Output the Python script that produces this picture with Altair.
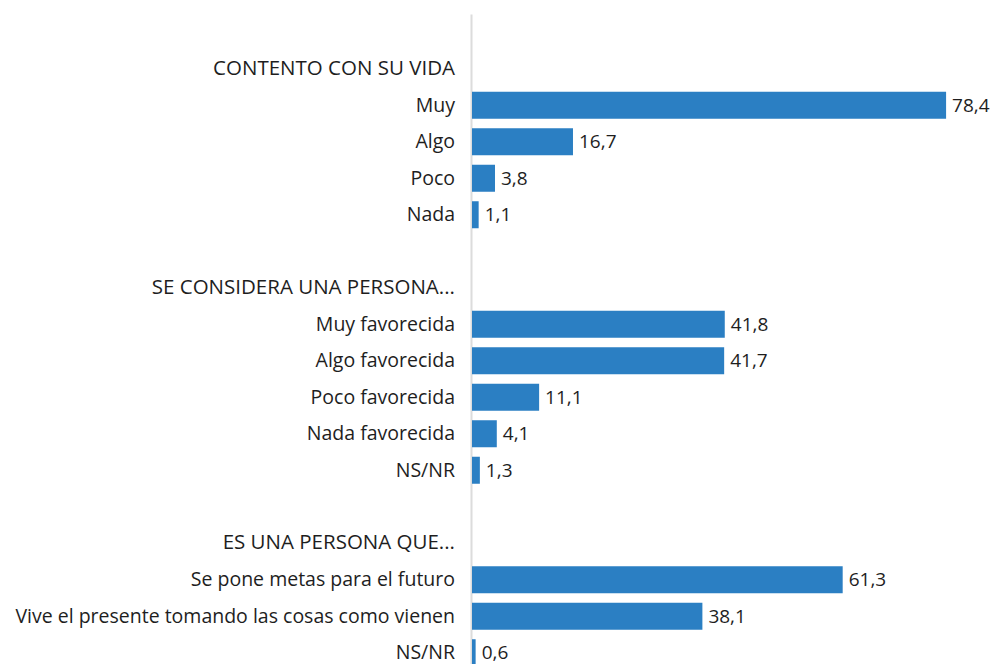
import altair as alt
import pandas as pd

groups = ["CONTENTO CON SU VIDA", "SE CONSIDERA UNA PERSONA...", "ES UNA PERSONA QUE..."]
categories = [
    ["Muy", "Algo", "Poco", "Nada"],
    ["Muy favorecida", "Algo favorecida", "Poco favorecida", "Nada favorecida", "NS/NR"],
    ["Se pone metas para el futuro", "Vive el presente tomando las cosas como vienen", "NS/NR"],
]
values = [
    [78.4, 16.7, 3.8, 1.1],
    [41.8, 41.7, 11.1, 4.1, 1.3],
    [61.3, 38.1, 0.6],
]

rows = []
r = 1
for g, cats, vals in zip(groups, categories, values):
    rows.append({"row": r, "label": g, "value": None, "header": True})
    r += 1
    for c, v in zip(cats, vals):
        rows.append({"row": r, "label": c, "value": v, "header": False})
        r += 1
    r += 1
df = pd.DataFrame(rows)

FONT = "Open Sans"
FS = 19.5
PITCH = 36.5
H = 650
ymax = -0.5 + H / PITCH
yscale = alt.Scale(domain=[-0.5, ymax], reverse=True, nice=False, zero=False)
xscale = alt.Scale(domain=[0, 85], nice=False)

base = alt.Chart(df)

bars = base.transform_filter("!datum.header").transform_calculate(
    y0="datum.row - 0.37", y1="datum.row + 0.37"
).mark_bar(color="#2b7fc3").encode(
    x=alt.X("value:Q", scale=xscale, axis=None),
    x2=alt.datum(0),
    y=alt.Y("y0:Q", scale=yscale,
            axis=alt.Axis(labels=False, ticks=False, grid=False, title=None,
                          domainColor="#dcdcdc", domainWidth=2, offset=1)),
    y2="y1:Q",
)

vals = base.transform_filter("!datum.header").transform_calculate(
    txt="replace(format(datum.value, '.1f'), '.', ',')"
).mark_text(align="left", baseline="middle", dx=6, dy=0.5, font=FONT, fontSize=19, color="#1e1e1e").encode(
    x=alt.X("value:Q", scale=xscale),
    y=alt.Y("row:Q", scale=yscale),
    text="txt:N",
)

items = base.transform_filter("!datum.header").mark_text(
    align="right", baseline="middle", dy=0.5, font=FONT, fontSize=FS, color="#1e1e1e"
).encode(
    x=alt.value(-17),
    y=alt.Y("row:Q", scale=yscale),
    text="label:N",
)

headers = base.transform_filter("datum.header").mark_text(
    align="right", baseline="middle", dy=0, font=FONT, fontSize=20.5, color="#1e1e1e"
).encode(
    x=alt.value(-17),
    y=alt.Y("row:Q", scale=yscale),
    text="label:N",
)

chart = alt.layer(bars, vals, items, headers).properties(
    width=514, height=H,
    padding={"left": 464, "top": 6, "right": 5, "bottom": 0},
    autosize=alt.AutoSizeParams(type="none"),
).configure_view(stroke=None)

chart.save("out.html", embed_options={"renderer": "svg", "actions": False})
